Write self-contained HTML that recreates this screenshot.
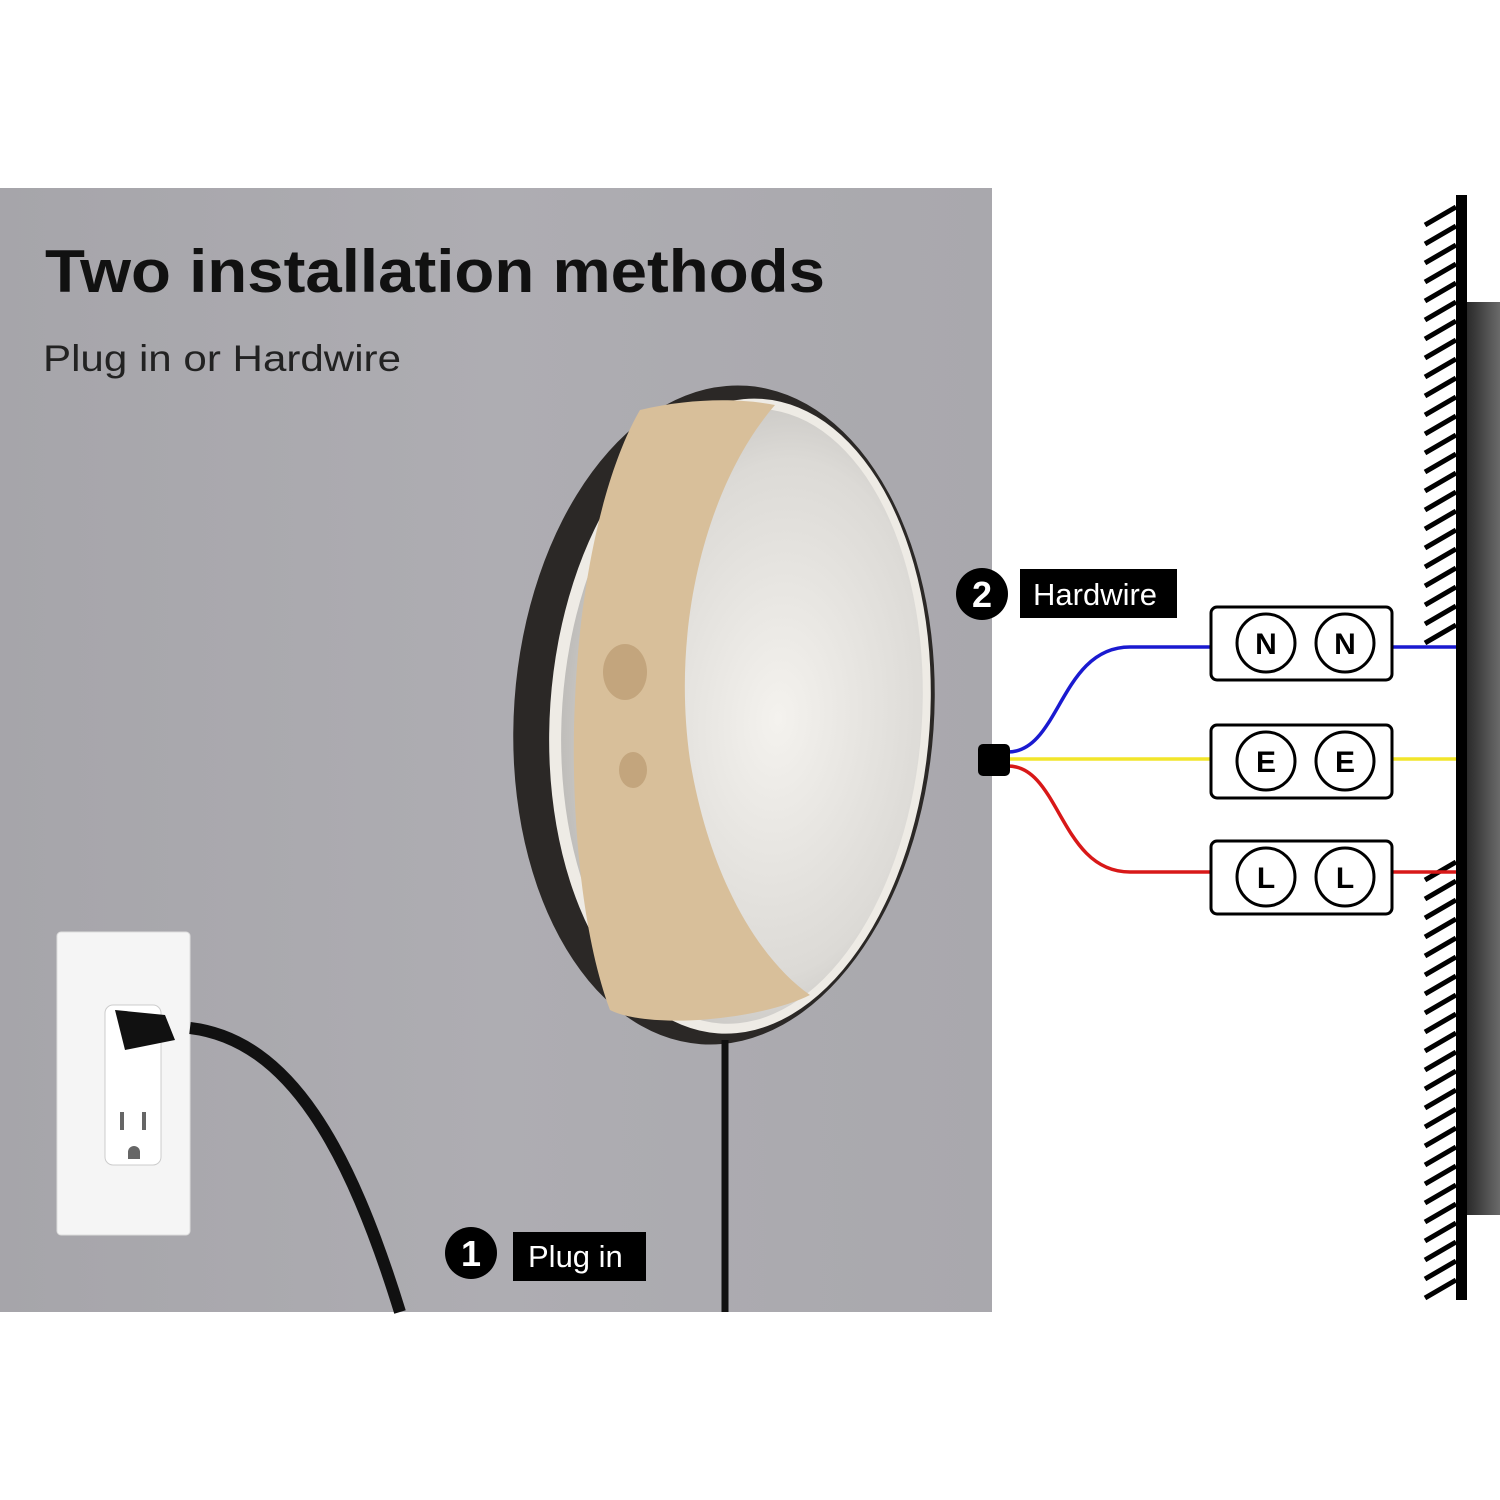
<!DOCTYPE html>
<html><head><style>
html,body{margin:0;padding:0;background:#fff;}
svg{display:block;}
</style></head><body>
<svg width="1500" height="1500" viewBox="0 0 1500 1500" xmlns="http://www.w3.org/2000/svg">
<defs>
<linearGradient id="wallg" x1="0" x2="1">
<stop offset="0" stop-color="#a6a5aa"/><stop offset="0.5" stop-color="#aeadb2"/><stop offset="1" stop-color="#a9a8ad"/>
</linearGradient>
<linearGradient id="darkw" x1="0" x2="1">
<stop offset="0" stop-color="#2a2a2a"/><stop offset="1" stop-color="#6a6a6a"/>
</linearGradient>
<radialGradient id="glow" cx="0.6" cy="0.5" r="0.6">
<stop offset="0" stop-color="#f4f2ee"/><stop offset="0.7" stop-color="#dcdad6"/><stop offset="1" stop-color="#bfbdba"/>
</radialGradient>
</defs>
<rect x="0" y="188" width="992" height="1124" fill="url(#wallg)"/>
<text x="45" y="292" font-family="Liberation Sans, sans-serif" font-weight="bold" font-size="60" fill="#111" textLength="780" lengthAdjust="spacingAndGlyphs">Two installation methods</text>
<text x="43" y="371" font-family="Liberation Sans, sans-serif" font-size="37" fill="#222" textLength="358" lengthAdjust="spacingAndGlyphs">Plug in or Hardwire</text>

<!-- mirror -->
<g transform="rotate(4 724 715)">
<ellipse cx="724" cy="715" rx="210" ry="330" fill="#2b2826"/>
<ellipse cx="740" cy="715" rx="190" ry="318" fill="#eeebe5"/>
<ellipse cx="742" cy="715" rx="180" ry="308" fill="url(#glow)"/>
</g>
<path d="M775 405 C710 480 670 620 690 760 C710 880 760 960 810 995 C760 1020 650 1030 610 1010 C580 930 570 800 575 700 C580 580 605 470 640 410 C690 398 740 398 775 405Z" fill="#d8bf9a"/>
<ellipse cx="625" cy="672" rx="22" ry="28" fill="#c3a57d"/>
<ellipse cx="633" cy="770" rx="14" ry="18" fill="#c3a57d"/>
<line x1="725" y1="1040" x2="725" y2="1312" stroke="#111" stroke-width="7"/>

<!-- outlet -->
<rect x="57" y="932" width="133" height="303" rx="4" fill="#f5f5f5" stroke="#ddd"/>
<rect x="105" y="1005" width="56" height="160" rx="8" fill="#fff" stroke="#ccc"/>
<rect x="120" y="1112" width="4" height="18" fill="#666"/><rect x="142" y="1112" width="4" height="18" fill="#666"/>
<path d="M128 1152 a6 6 0 0 1 12 0 v7 h-12z" fill="#666"/>
<path d="M115 1010 L165 1015 L175 1040 L125 1050 Z" fill="#111"/>
<path d="M190 1028 C290 1040 350 1150 400 1312" stroke="#111" stroke-width="12" fill="none"/>

<!-- labels -->
<circle cx="471" cy="1253" r="26" fill="#000"/>
<text x="471" y="1266" text-anchor="middle" font-family="Liberation Sans, sans-serif" font-weight="bold" font-size="36" fill="#fff">1</text>
<rect x="513" y="1232" width="133" height="49" fill="#000"/>
<text x="528" y="1267" font-family="Liberation Sans, sans-serif" font-size="31" fill="#fff">Plug in</text>
<circle cx="982" cy="594" r="26" fill="#000"/>
<text x="982" y="607" text-anchor="middle" font-family="Liberation Sans, sans-serif" font-weight="bold" font-size="36" fill="#fff">2</text>
<rect x="1020" y="569" width="157" height="49" fill="#000"/>
<text x="1033" y="605" font-family="Liberation Sans, sans-serif" font-size="31" fill="#fff">Hardwire</text>

<!-- wall -->
<rect x="1467" y="302" width="33" height="913" fill="url(#darkw)"/>
<path d="M1425 225 l31 -18 m-31 37 l31 -18 m-31 37 l31 -18 m-31 37 l31 -18 m-31 37 l31 -18 m-31 37 l31 -18 m-31 37 l31 -18 m-31 37 l31 -18 m-31 37 l31 -18 m-31 37 l31 -18 m-31 37 l31 -18 m-31 37 l31 -18 m-31 37 l31 -18 m-31 37 l31 -18 m-31 37 l31 -18 m-31 37 l31 -18 m-31 37 l31 -18 m-31 37 l31 -18 m-31 37 l31 -18 m-31 37 l31 -18 m-31 37 l31 -18 m-31 37 l31 -18 m-31 37 l31 -18" stroke="#000" stroke-width="5" fill="none"/>
<path d="M1425 880 l31 -18 m-31 37 l31 -18 m-31 37 l31 -18 m-31 37 l31 -18 m-31 37 l31 -18 m-31 37 l31 -18 m-31 37 l31 -18 m-31 37 l31 -18 m-31 37 l31 -18 m-31 37 l31 -18 m-31 37 l31 -18 m-31 37 l31 -18 m-31 37 l31 -18 m-31 37 l31 -18 m-31 37 l31 -18 m-31 37 l31 -18 m-31 37 l31 -18 m-31 37 l31 -18 m-31 37 l31 -18 m-31 37 l31 -18 m-31 37 l31 -18 m-31 37 l31 -18 m-31 37 l31 -18" stroke="#000" stroke-width="5" fill="none"/>
<rect x="1456" y="195" width="11" height="1105" fill="#000"/>

<!-- wires -->
<path d="M1008 752 C1060 752 1060 647 1130 647 L1212 647" stroke="#1a1ad0" stroke-width="3.5" fill="none"/>
<path d="M1008 759 L1212 759" stroke="#f2e52a" stroke-width="3.5"/>
<path d="M1008 766 C1060 766 1060 872 1130 872 L1212 872" stroke="#d81818" stroke-width="3.5" fill="none"/>
<line x1="1392" y1="647" x2="1456" y2="647" stroke="#1a1ad0" stroke-width="3.5"/>
<line x1="1392" y1="759" x2="1456" y2="759" stroke="#f2e52a" stroke-width="3.5"/>
<line x1="1392" y1="872" x2="1456" y2="872" stroke="#d81818" stroke-width="3.5"/>
<rect x="978" y="744" width="32" height="32" rx="5" fill="#000"/>

<g font-family="Liberation Sans, sans-serif" font-weight="bold" font-size="30" text-anchor="middle" fill="#000">
<rect x="1211" y="607" width="181" height="73" rx="6" fill="#fff" stroke="#000" stroke-width="3"/>
<circle cx="1266" cy="643" r="29" fill="none" stroke="#000" stroke-width="3"/><circle cx="1345" cy="643" r="29" fill="none" stroke="#000" stroke-width="3"/>
<text x="1266" y="654">N</text><text x="1345" y="654">N</text>
<rect x="1211" y="725" width="181" height="73" rx="6" fill="#fff" stroke="#000" stroke-width="3"/>
<circle cx="1266" cy="761" r="29" fill="none" stroke="#000" stroke-width="3"/><circle cx="1345" cy="761" r="29" fill="none" stroke="#000" stroke-width="3"/>
<text x="1266" y="772">E</text><text x="1345" y="772">E</text>
<rect x="1211" y="841" width="181" height="73" rx="6" fill="#fff" stroke="#000" stroke-width="3"/>
<circle cx="1266" cy="877" r="29" fill="none" stroke="#000" stroke-width="3"/><circle cx="1345" cy="877" r="29" fill="none" stroke="#000" stroke-width="3"/>
<text x="1266" y="888">L</text><text x="1345" y="888">L</text>
</g>
</svg>
</body></html>
